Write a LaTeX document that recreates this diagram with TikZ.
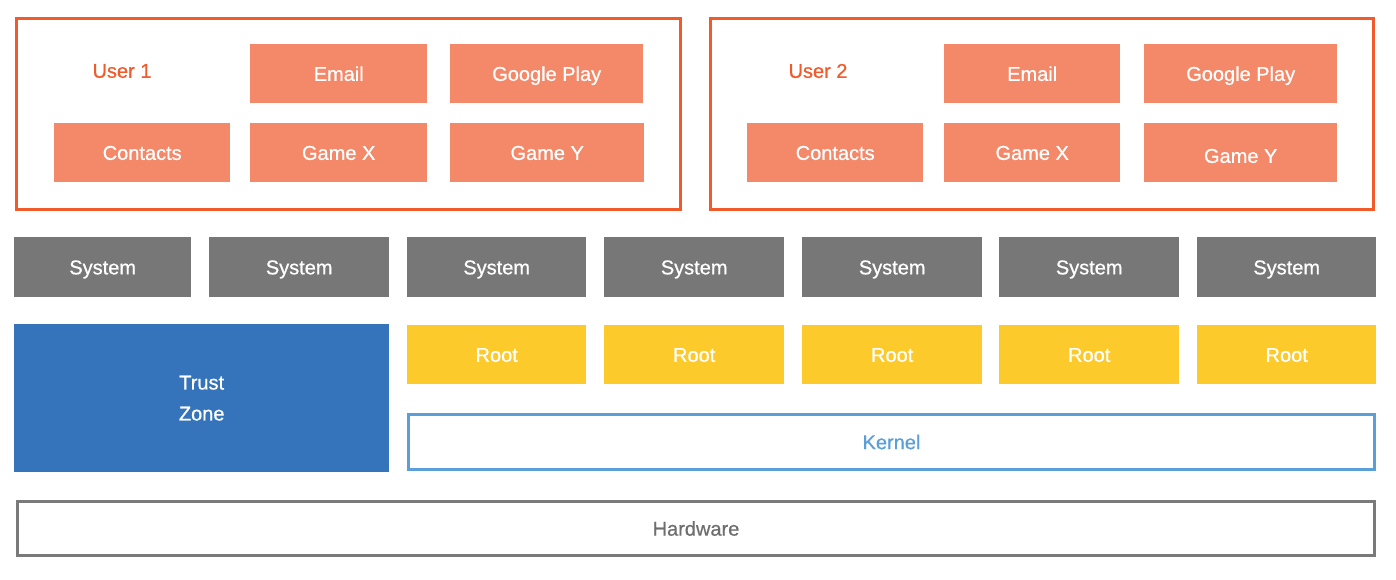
\documentclass[tikz,border=0pt]{standalone}
\usepackage{fontspec}
\setmainfont{Liberation Sans}[FakeBold=0.7]
\definecolor{orangeline}{HTML}{F15A2B}
\definecolor{salmon}{HTML}{F4896A}
\definecolor{sysgray}{HTML}{777777}
\definecolor{tzblue}{HTML}{3574BA}
\definecolor{rootyellow}{HTML}{FDCA2B}
\definecolor{kblue}{HTML}{5A9FD8}
\definecolor{hwgray}{HTML}{7A7A7A}
\tikzset{
  base/.style={anchor=north west, inner sep=0pt, font=\fontsize{20}{24}\selectfont,
    text height=14.3pt, text depth=0pt},
  userframe/.style={base, draw=orangeline, line width=3pt},
  app/.style={base, fill=salmon, text=white},
  sysbox/.style={base, fill=sysgray, text=white},
  rootbox/.style={base, fill=rootyellow, text=white},
  tzbox/.style={anchor=north west, inner sep=0pt, fill=tzblue, text=white, align=center, font=\fontsize{20}{31}\selectfont},
  kbox/.style={base, draw=kblue, line width=3pt, text=kblue},
  hwbox/.style={base, draw=hwgray, line width=3pt, text=hwgray!90!black},
  ulabel/.style={text=orangeline, font=\fontsize{20}{24}\selectfont, inner sep=0pt},
}
\begin{document}
\begin{tikzpicture}[x=1pt,y=-1pt]
\useasboundingbox (0,0) rectangle (1396,580);
% user frames
\node[userframe, minimum width=664, minimum height=191] (u1) at (15,17) {};
\node[userframe, minimum width=663, minimum height=191] (u2) at (709,17) {};
\node[ulabel] (u1l) at (122,71) {User 1};
\node[ulabel] (u2l) at (818,71) {User 2};
% user 1 apps
\node[app, minimum width=177, minimum height=59] (e1) at (250,44) {Email};
\node[app, minimum width=193, minimum height=59] (g1) at (450,44) {Google Play};
\node[app, minimum width=176, minimum height=59] (c1) at (54,123) {Contacts};
\node[app, minimum width=177, minimum height=59] (x1) at (250,123) {Game X};
\node[app, minimum width=194, minimum height=59] (y1) at (450,123) {Game Y};
% user 2 apps
\node[app, minimum width=176, minimum height=59] (e2) at (944,44) {Email};
\node[app, minimum width=193, minimum height=59] (g2) at (1144,44) {Google Play};
\node[app, minimum width=176, minimum height=59] (c2) at (747,123) {Contacts};
\node[app, minimum width=176, minimum height=59] (x2) at (944,123) {Game X};
\node[app, minimum width=193, minimum height=59] (y2) at (1144,123) {\raisebox{-3pt}{Game Y}};
% system row
\node[sysbox, minimum width=177, minimum height=60] (s1) at (14,237) {System};
\node[sysbox, minimum width=180, minimum height=60] (s2) at (209,237) {System};
\node[sysbox, minimum width=179, minimum height=60] (s3) at (407,237) {System};
\node[sysbox, minimum width=180, minimum height=60] (s4) at (604,237) {System};
\node[sysbox, minimum width=180, minimum height=60] (s5) at (802,237) {System};
\node[sysbox, minimum width=180, minimum height=60] (s6) at (999,237) {System};
\node[sysbox, minimum width=179, minimum height=60] (s7) at (1197,237) {System};
% trust zone
\node[tzbox, minimum width=375, minimum height=148] (tz) at (14,324) {Trust\\Zone};
% root row
\node[rootbox, minimum width=179, minimum height=59] (r1) at (407,325) {Root};
\node[rootbox, minimum width=180, minimum height=59] (r2) at (604,325) {Root};
\node[rootbox, minimum width=180, minimum height=59] (r3) at (802,325) {Root};
\node[rootbox, minimum width=180, minimum height=59] (r4) at (999,325) {Root};
\node[rootbox, minimum width=179, minimum height=59] (r5) at (1197,325) {Root};
% kernel and hardware
\node[kbox, minimum width=966, minimum height=55] (k) at (407,413) {Kernel};
\node[hwbox, minimum width=1357, minimum height=54] (hw) at (16,500) {Hardware};
\end{tikzpicture}
\end{document}
